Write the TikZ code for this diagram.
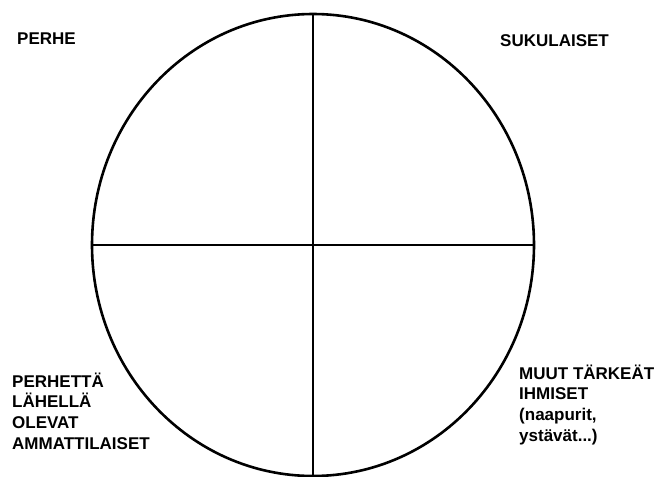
\documentclass[tikz,border=0pt]{standalone}
\usepackage{fontspec}
\setmainfont{Liberation Sans}
\begin{document}
\begin{tikzpicture}[x=1pt,y=-1pt,
  lbl/.style={inner sep=0pt,align=left,font=\bfseries\fontsize{17}{20.6}\selectfont},
  rim/.style={line width=2.6pt},
  axis/.style={line width=1.5pt}]
\useasboundingbox (0,0) rectangle (657,477);
\coordinate (c) at (313,245);
\draw[rim] (c) ellipse [x radius=221, y radius=231];
\coordinate (t) at (313,14);
\coordinate (b) at (313,477);
\coordinate (l) at (92,245);
\coordinate (r) at (534,245);
\draw[axis] (t) -- (b);
\draw[axis] (l) -- (r);
\node[lbl,anchor=base west] (perhe) at (17,44) {PERHE};
\node[lbl,anchor=base west] (suku) at (500,46) {SUKULAISET};
\node[lbl,anchor=base west] (amm) at (12,449) {PERHETTÄ\\LÄHELLÄ\\OLEVAT\\AMMATTILAISET};
\node[lbl,anchor=base west] (muut) at (519,441) {MUUT TÄRKEÄT\\IHMISET\\(naapurit,\\ystävät...)};
\end{tikzpicture}
\end{document}
